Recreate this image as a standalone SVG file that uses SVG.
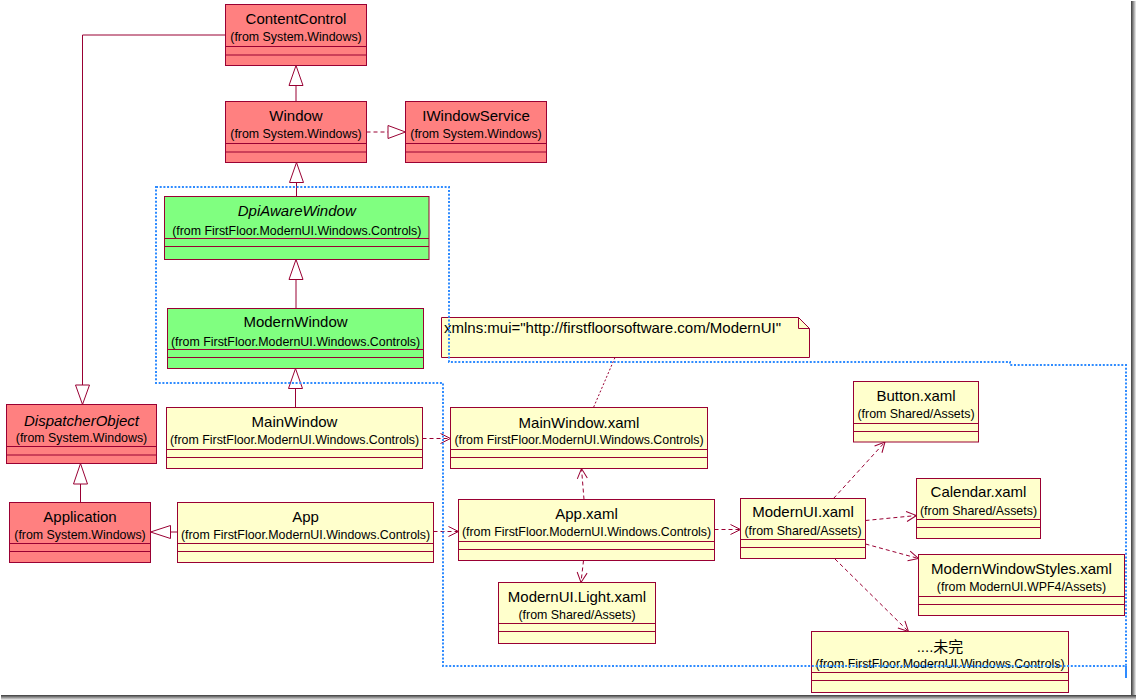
<svg xmlns="http://www.w3.org/2000/svg" width="1136" height="700" viewBox="0 0 1136 700">
<style>
.b{stroke:#990033;stroke-width:1}
.red{fill:#FF8080}.grn{fill:#80FF80}.yel{fill:#FFFFCC}
.d{stroke:#990033;stroke-width:1}
.n{font-family:"Liberation Sans",Arial,"Noto Sans CJK SC",sans-serif;font-size:15px;text-anchor:middle;fill:#000}
.s{font-family:"Liberation Sans",Arial,sans-serif;font-size:12.4px;text-anchor:middle;fill:#000}
.i{font-style:italic}
.ln{stroke:#990033;stroke-width:1;fill:none}
.dash{stroke-dasharray:4 3}
.dot{stroke-dasharray:2 2}
.tri{fill:#fff;stroke:#990033;stroke-width:1}
.bound{fill:none;stroke:#2E8BFF;stroke-width:2;stroke-dasharray:2 1.7}
</style>
<defs>
<marker id="open" markerUnits="userSpaceOnUse" markerWidth="12" markerHeight="12" refX="10" refY="5" orient="auto" viewBox="0 0 12 10" overflow="visible">
<path d="M0,0 L10,5 L0,10" fill="none" stroke="#990033" stroke-width="1" stroke-dasharray="none"/>
</marker>
<linearGradient id="shR" x1="0" y1="0" x2="1" y2="0"><stop offset="0" stop-color="#3a3a3a"/><stop offset="1" stop-color="#f0f0f0"/></linearGradient>
<linearGradient id="shB" x1="0" y1="0" x2="0" y2="1"><stop offset="0" stop-color="#3a3a3a"/><stop offset="1" stop-color="#f0f0f0"/></linearGradient>
</defs>
<rect width="1136" height="700" fill="#fff"/>
<rect x="1131" y="1" width="5" height="699" fill="url(#shR)"/>
<rect x="1" y="695" width="1135" height="5" fill="url(#shB)"/>

<g id="connectors">
<polyline class="ln" points="225.5,35 82.5,35 82.5,385"/>
<polygon class="tri" points="75.5,385 89.5,385 82.5,404.5"/>
<line class="ln" x1="296" y1="101.5" x2="296" y2="85.5"/>
<polygon class="tri" points="289,85.5 303,85.5 296,65.5"/>
<line class="ln dash" x1="366.5" y1="132" x2="388" y2="132"/>
<polygon class="tri" points="388,125.5 388,138.5 405.5,132"/>
<line class="ln" x1="296.5" y1="196.5" x2="296.5" y2="182.5"/>
<polygon class="tri" points="289.5,182.5 303.5,182.5 296.5,162.5"/>
<line class="ln" x1="296" y1="308.5" x2="296" y2="279.5"/>
<polygon class="tri" points="289,279.5 303,279.5 296,259.5"/>
<line class="ln" x1="295.5" y1="407.5" x2="295.5" y2="388.5"/>
<polygon class="tri" points="288.5,388.5 302.5,388.5 295.5,368.5"/>
<line class="ln" x1="80.5" y1="502.5" x2="80.5" y2="484"/>
<polygon class="tri" points="73.5,484 87.5,484 80.5,463.5"/>
<line class="ln" x1="177.5" y1="532" x2="170.5" y2="532"/>
<polygon class="tri" points="170.5,525.5 170.5,538.5 150.5,532"/>
<line class="ln dash" x1="422.5" y1="438.5" x2="450.5" y2="438.5" marker-end="url(#open)"/>
<line class="ln dash" x1="433.5" y1="531.5" x2="458.5" y2="531.5" marker-end="url(#open)"/>
<line class="ln dash" x1="584" y1="499.5" x2="581.5" y2="468.5" marker-end="url(#open)"/>
<line class="ln dash" x1="714.5" y1="529.5" x2="740.5" y2="529.5" marker-end="url(#open)"/>
<line class="ln dash" x1="583.5" y1="560.5" x2="581" y2="582.5" marker-end="url(#open)"/>
<line class="ln dash" x1="833.5" y1="498.5" x2="885" y2="442" marker-end="url(#open)"/>
<line class="ln dash" x1="865.5" y1="520.5" x2="916.5" y2="515.5" marker-end="url(#open)"/>
<line class="ln dash" x1="865.5" y1="544" x2="918.5" y2="558.5" marker-end="url(#open)"/>
<line class="ln dash" x1="835" y1="559" x2="908.5" y2="631.5" marker-end="url(#open)"/>
<line class="ln dot" x1="615" y1="357.5" x2="593.5" y2="407.5"/>
</g>

<g id="ContentControl">
<rect class="b red" x="225.5" y="4.5" width="141" height="61"/>
<line class="d" x1="225.5" y1="46.5" x2="366.5" y2="46.5"/><line class="d" x1="225.5" y1="55" x2="366.5" y2="55"/>
<text class="n" x="296" y="24">ContentControl</text><text class="s" x="296" y="41">(from System.Windows)</text>
</g>
<g id="Window">
<rect class="b red" x="225.5" y="101.5" width="141" height="61"/>
<line class="d" x1="225.5" y1="143.5" x2="366.5" y2="143.5"/><line class="d" x1="225.5" y1="152" x2="366.5" y2="152"/>
<text class="n" x="296" y="121">Window</text><text class="s" x="296" y="138">(from System.Windows)</text>
</g>
<g id="IWindowService">
<rect class="b red" x="405.5" y="101.5" width="141" height="61"/>
<line class="d" x1="405.5" y1="143.5" x2="546.5" y2="143.5"/><line class="d" x1="405.5" y1="152" x2="546.5" y2="152"/>
<text class="n" x="476" y="121">IWindowService</text><text class="s" x="476" y="138">(from System.Windows)</text>
</g>
<g id="DpiAwareWindow">
<rect class="b grn" x="164.5" y="196.5" width="264.5" height="63"/>
<line class="d" x1="164.5" y1="238.5" x2="429" y2="238.5"/><line class="d" x1="164.5" y1="246.5" x2="429" y2="246.5"/>
<text class="n i" x="296.75" y="216">DpiAwareWindow</text><text class="s" x="296.75" y="234.5">(from FirstFloor.ModernUI.Windows.Controls)</text>
</g>
<g id="ModernWindow">
<rect class="b grn" x="167.5" y="308.5" width="256" height="60"/>
<line class="d" x1="167.5" y1="349.5" x2="423.5" y2="349.5"/><line class="d" x1="167.5" y1="357.5" x2="423.5" y2="357.5"/>
<text class="n" x="295.5" y="327">ModernWindow</text><text class="s" x="295.5" y="345.5">(from FirstFloor.ModernUI.Windows.Controls)</text>
</g>
<g id="DispatcherObject">
<rect class="b red" x="6.5" y="404.5" width="150" height="59"/>
<line class="d" x1="6.5" y1="446.5" x2="156.5" y2="446.5"/><line class="d" x1="6.5" y1="455" x2="156.5" y2="455"/>
<text class="n i" x="81.5" y="425.5">DispatcherObject</text><text class="s" x="81.5" y="441.5">(from System.Windows)</text>
</g>
<g id="Application">
<rect class="b red" x="9.5" y="502.5" width="141" height="60"/>
<line class="d" x1="9.5" y1="543.5" x2="150.5" y2="543.5"/><line class="d" x1="9.5" y1="551.5" x2="150.5" y2="551.5"/>
<text class="n" x="80" y="521.5">Application</text><text class="s" x="80" y="538.5">(from System.Windows)</text>
</g>
<g id="MainWindow">
<rect class="b yel" x="166.5" y="407.5" width="256" height="61"/>
<line class="d" x1="166.5" y1="449.5" x2="422.5" y2="449.5"/><line class="d" x1="166.5" y1="457.5" x2="422.5" y2="457.5"/>
<text class="n" x="294.5" y="427">MainWindow</text><text class="s" x="294.5" y="443.5">(from FirstFloor.ModernUI.Windows.Controls)</text>
</g>
<g id="App">
<rect class="b yel" x="177.5" y="502.5" width="256" height="60"/>
<line class="d" x1="177.5" y1="543.5" x2="433.5" y2="543.5"/><line class="d" x1="177.5" y1="551.5" x2="433.5" y2="551.5"/>
<text class="n" x="305.5" y="521.5">App</text><text class="s" x="305.5" y="538.5">(from FirstFloor.ModernUI.Windows.Controls)</text>
</g>
<g id="MainWindowXaml">
<rect class="b yel" x="450.5" y="407.5" width="257" height="61"/>
<line class="d" x1="450.5" y1="449.5" x2="707.5" y2="449.5"/><line class="d" x1="450.5" y1="457.5" x2="707.5" y2="457.5"/>
<text class="n" x="579" y="428">MainWindow.xaml</text><text class="s" x="579" y="443.5">(from FirstFloor.ModernUI.Windows.Controls)</text>
</g>
<g id="AppXaml">
<rect class="b yel" x="458.5" y="499.5" width="256" height="61"/>
<line class="d" x1="458.5" y1="541.5" x2="714.5" y2="541.5"/><line class="d" x1="458.5" y1="549.5" x2="714.5" y2="549.5"/>
<text class="n" x="586.5" y="518.5">App.xaml</text><text class="s" x="586.5" y="536">(from FirstFloor.ModernUI.Windows.Controls)</text>
</g>
<g id="ModernUILightXaml">
<rect class="b yel" x="498.5" y="582.5" width="157" height="61"/>
<line class="d" x1="498.5" y1="623.5" x2="655.5" y2="623.5"/><line class="d" x1="498.5" y1="631.5" x2="655.5" y2="631.5"/>
<text class="n" x="577" y="602">ModernUI.Light.xaml</text><text class="s" x="577" y="618.5">(from Shared/Assets)</text>
</g>
<g id="ModernUIXaml">
<rect class="b yel" x="740.5" y="498.5" width="125" height="60"/>
<line class="d" x1="740.5" y1="539.5" x2="865.5" y2="539.5"/><line class="d" x1="740.5" y1="547.5" x2="865.5" y2="547.5"/>
<text class="n" x="803" y="517">ModernUI.xaml</text><text class="s" x="803" y="534.5">(from Shared/Assets)</text>
</g>
<g id="ButtonXaml">
<rect class="b yel" x="853.5" y="381.5" width="125" height="60.5"/>
<line class="d" x1="853.5" y1="423.5" x2="978.5" y2="423.5"/><line class="d" x1="853.5" y1="431.5" x2="978.5" y2="431.5"/>
<text class="n" x="916" y="401">Button.xaml</text><text class="s" x="916" y="417.5">(from Shared/Assets)</text>
</g>
<g id="CalendarXaml">
<rect class="b yel" x="916.5" y="478.5" width="124" height="60"/>
<line class="d" x1="916.5" y1="519.5" x2="1040.5" y2="519.5"/><line class="d" x1="916.5" y1="527.5" x2="1040.5" y2="527.5"/>
<text class="n" x="978.5" y="497">Calendar.xaml</text><text class="s" x="978.5" y="515">(from Shared/Assets)</text>
</g>
<g id="ModernWindowStylesXaml">
<rect class="b yel" x="918.5" y="554.5" width="206" height="61"/>
<line class="d" x1="918.5" y1="596.5" x2="1124.5" y2="596.5"/><line class="d" x1="918.5" y1="604.5" x2="1124.5" y2="604.5"/>
<text class="n" x="1021.5" y="574">ModernWindowStyles.xaml</text><text class="s" x="1021.5" y="591">(from ModernUI.WPF4/Assets)</text>
</g>
<g id="Unfinished">
<rect class="b yel" x="811.5" y="631.5" width="257" height="61"/>
<line class="d" x1="811.5" y1="672.5" x2="1068.5" y2="672.5"/><line class="d" x1="811.5" y1="680.5" x2="1068.5" y2="680.5"/>
<text class="n" x="940" y="651.5">....未完</text><text class="s" x="940" y="668">(from FirstFloor.ModernUI.Windows.Controls)</text>
</g>
<g id="Note">
<path class="b yel" d="M441.5,317.5 H798.5 L809.5,328.5 V357.5 H441.5 Z"/>
<path class="d" fill="none" d="M798.5,317.5 V328.5 H809.5"/>
<text class="n" x="444" y="333" style="text-anchor:start">xmlns:mui="http://firstfloorsoftware.com/ModernUI"</text>
</g>
<g id="boundary">
<path class="bound" d="M156,187 H449 V362 H1010 V365 H1126 V666 H443 V383 H156 Z"/>
<line x1="1126" y1="666" x2="1126" y2="678" stroke="#2E8BFF" stroke-width="2"/>
</g>
</svg>
